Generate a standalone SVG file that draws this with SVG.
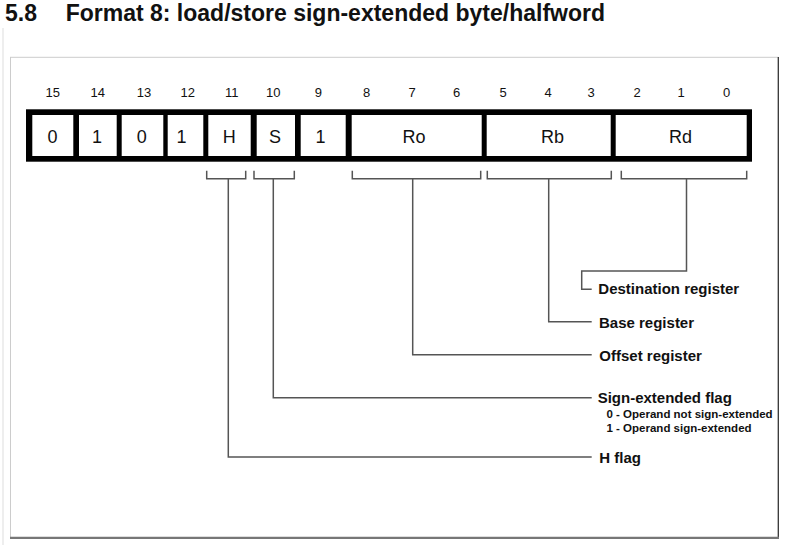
<svg xmlns="http://www.w3.org/2000/svg" width="796" height="545" viewBox="0 0 796 545">
<style>
  .title { font-family: "Liberation Sans", Arial, sans-serif; font-weight: bold; font-size: 23px; fill: #111; }
  .bit { font-family: "Liberation Sans", Arial, sans-serif; font-size: 13px; fill: #111; text-anchor: middle; }
  .cell { fill: #fff; }
  .ctext { font-family: "Liberation Sans", Arial, sans-serif; font-size: 18px; fill: #111; text-anchor: middle; }
  .lbl { font-family: "Liberation Sans", Arial, sans-serif; font-weight: bold; font-size: 15px; fill: #111; }
  .sub { font-family: "Liberation Sans", Arial, sans-serif; font-weight: bold; font-size: 11.5px; fill: #111; }
  .conn { fill: none; stroke: #555; stroke-width: 1.5; }
</style>
<rect x="0" y="0" width="796" height="545" fill="#fff"/>
<line x1="3" y1="28" x2="3" y2="545" stroke="#ddd" stroke-width="1"/>
<text class="title" x="5" y="21">5.8</text>
<text class="title" x="65.7" y="21">Format 8: load/store sign-extended byte/halfword</text>
<g id="frame">
  <line x1="10" y1="57.3" x2="778.5" y2="57.3" stroke="#ccc" stroke-width="1"/>
  <line x1="10.5" y1="57" x2="10.5" y2="538" stroke="#ccc" stroke-width="1"/>
  <line x1="778.3" y1="57" x2="778.3" y2="538" stroke="#333" stroke-width="1.3"/>
  <line x1="10" y1="537.8" x2="779" y2="537.8" stroke="#777" stroke-width="2.2"/>
</g>
<g id="bit-numbers">
  <text class="bit" x="52.7" y="97">15</text>
  <text class="bit" x="97.7" y="97">14</text>
  <text class="bit" x="144" y="97">13</text>
  <text class="bit" x="187.7" y="97">12</text>
  <text class="bit" x="231.7" y="97">11</text>
  <text class="bit" x="273.3" y="97">10</text>
  <text class="bit" x="318.3" y="97">9</text>
  <text class="bit" x="366.7" y="97">8</text>
  <text class="bit" x="412" y="97">7</text>
  <text class="bit" x="456.7" y="97">6</text>
  <text class="bit" x="503" y="97">5</text>
  <text class="bit" x="548" y="97">4</text>
  <text class="bit" x="591" y="97">3</text>
  <text class="bit" x="637" y="97">2</text>
  <text class="bit" x="681" y="97">1</text>
  <text class="bit" x="726.7" y="97">0</text>
</g>
<g id="register">
  <rect x="26" y="109.3" width="726" height="52.4" fill="#000"/>
  <g id="b15"><rect class="cell" x="32.3" y="115" width="41" height="41"/><text class="ctext" x="52.5" y="143">0</text></g>
  <g id="b14"><rect class="cell" x="79" y="115" width="37.7" height="41"/><text class="ctext" x="97" y="143">1</text></g>
  <g id="b13"><rect class="cell" x="121.7" y="115" width="41.6" height="41"/><text class="ctext" x="141.7" y="143">0</text></g>
  <g id="b12"><rect class="cell" x="167.7" y="115" width="35.6" height="41"/><text class="ctext" x="181.5" y="143">1</text></g>
  <g id="bH"><rect class="cell" x="208.3" y="115" width="42.4" height="41"/><text class="ctext" x="229.3" y="143">H</text></g>
  <g id="bS"><rect class="cell" x="256.7" y="115" width="38.3" height="41"/><text class="ctext" x="275" y="143">S</text></g>
  <g id="b9"><rect class="cell" x="300.7" y="115" width="45" height="41"/><text class="ctext" x="320.5" y="143">1</text></g>
  <g id="Ro"><rect class="cell" x="351.7" y="115" width="130" height="41"/><text class="ctext" x="414" y="143">Ro</text></g>
  <g id="Rb"><rect class="cell" x="486.7" y="115" width="124" height="41"/><text class="ctext" x="552.5" y="143">Rb</text></g>
  <g id="Rd"><rect class="cell" x="615.7" y="115" width="131" height="41"/><text class="ctext" x="680.5" y="143">Rd</text></g>
</g>
<g id="connectors">
  <path class="conn" d="M206.7 170.7 V178.8 H245.7 V170.7"/>
  <path class="conn" d="M254 170.7 V178.8 H294.3 V170.7"/>
  <path class="conn" d="M352.3 170.7 V178.8 H480.7 V170.7"/>
  <path class="conn" d="M487.3 170.7 V178.8 H611.3 V170.7"/>
  <path class="conn" d="M621.3 170.7 V178.8 H746.7 V170.7"/>
  <path class="conn" d="M686.5 178.8 V271 H581.7 V289.3 H591.7"/>
  <path class="conn" d="M548.7 178.8 V321.7 H591.7"/>
  <path class="conn" d="M412.7 178.8 V354.8 H591.7"/>
  <path class="conn" d="M273.3 178.8 V397.7 H591.7"/>
  <path class="conn" d="M228.3 178.8 V457 H591.7"/>
</g>
<g id="labels">
  <text class="lbl" x="598.3" y="294">Destination register</text>
  <text class="lbl" x="599" y="327.5">Base register</text>
  <text class="lbl" x="599.3" y="361">Offset register</text>
  <text class="lbl" x="597.7" y="403">Sign-extended flag</text>
  <text class="sub" x="606.5" y="417.7">0 - Operand not sign-extended</text>
  <text class="sub" x="606.5" y="431.7">1 - Operand sign-extended</text>
  <text class="lbl" x="599.3" y="463">H flag</text>
</g>
</svg>
